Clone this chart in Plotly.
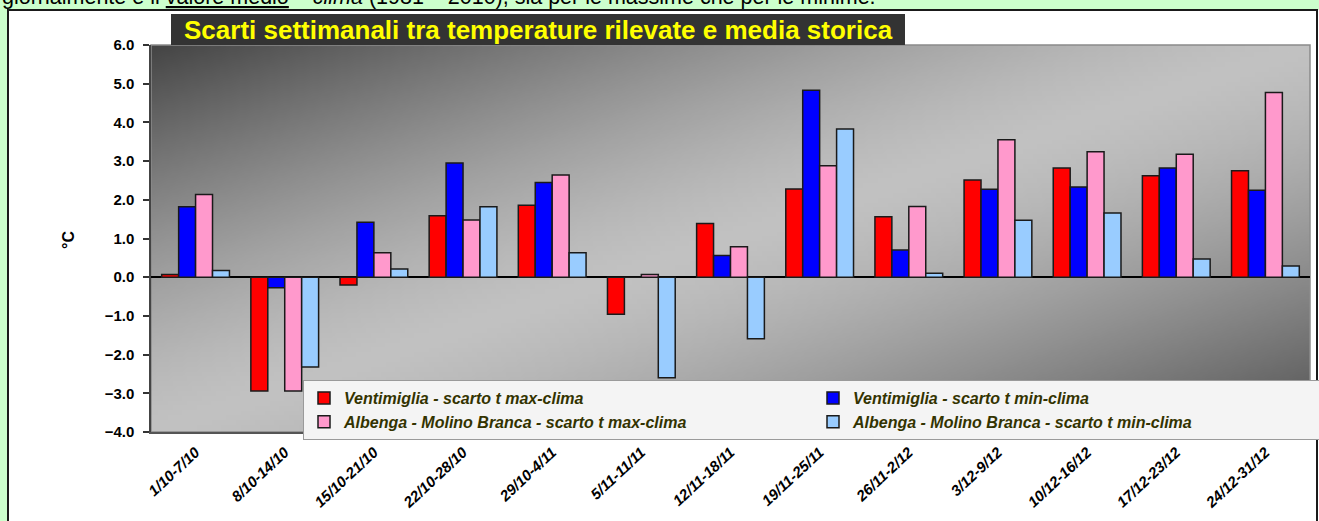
import base64, struct, zlib
import numpy as np
import plotly.graph_objects as go

# ---------------- data ----------------
categories = ['1/10-7/10', '8/10-14/10', '15/10-21/10', '22/10-28/10', '29/10-4/11',
              '5/11-11/11', '12/11-18/11', '19/11-25/11', '26/11-2/12', '3/12-9/12',
              '10/12-16/12', '17/12-23/12', '24/12-31/12']
vent_max = [0.07, -2.94, -0.20, 1.59, 1.86, -0.96, 1.39, 2.28, 1.56, 2.51, 2.82, 2.62, 2.75]
vent_min = [1.82, -0.27, 1.42, 2.95, 2.45, 0.00, 0.56, 4.83, 0.70, 2.27, 2.33, 2.82, 2.25]
alb_max = [2.14, -2.94, 0.63, 1.48, 2.64, 0.07, 0.79, 2.88, 1.83, 3.55, 3.24, 3.18, 4.77]
alb_min = [0.17, -2.32, 0.21, 1.82, 0.63, -2.60, -1.59, 3.83, 0.10, 1.47, 1.66, 0.47, 0.29]
series_names = ['Ventimiglia - scarto t max-clima', 'Ventimiglia - scarto t min-clima',
                'Albenga - Molino Branca - scarto t max-clima', 'Albenga - Molino Branca - scarto t min-clima']
series_colors = ['#ff0000', '#0000ff', '#ff99cc', '#99ccff']
y_ticks = [-4, -3, -2, -1, 0, 1, 2, 3, 4, 5, 6]
grid_ticks = [-3, 3, 4, 5]

# ---------------- geometry helpers (pixel -> paper) ----------------
FW, FH = 1319, 521
L, R, T, B = 151, 1310, 45, 432
W, H = R - L, B - T


def fx(px):
    return (px - L) / W


def fy(py):
    return (B - py) / H


# ---------------- gradient background image ----------------
def gray_png(arr):
    h, w = arr.shape
    raw = b''.join(b'\x00' + bytes(row.tolist()) for row in arr.astype(np.uint8))

    def chunk(tag, data):
        return struct.pack('>I', len(data)) + tag + data + struct.pack('>I', zlib.crc32(tag + data) & 0xffffffff)

    return (b'\x89PNG\r\n\x1a\n' + chunk(b'IHDR', struct.pack('>IIBBBBB', w, h, 8, 0, 0, 0, 0))
            + chunk(b'IDAT', zlib.compress(raw)) + chunk(b'IEND', b''))


gw, gh = 240, 80
u = (np.arange(gw) + 0.5) / gw
v = (np.arange(gh) + 0.5) / gh
t = (u[None, :] + v[:, None]) / 2
light = 194.0
dark = np.where(t < 0.5, 68.0, 80.0)
vals = light - (light - dark) * np.abs(1 - 2 * t) ** 1.4
bg_src = 'data:image/png;base64,' + base64.b64encode(gray_png(np.clip(vals, 0, 255))).decode()

# ---------------- figure ----------------
fig = go.Figure()
for name, vals_, col in zip(series_names, [vent_max, vent_min, alb_max, alb_min], series_colors):
    fig.add_trace(go.Bar(x=categories, y=vals_, name=name,
                         marker=dict(color=col, line=dict(color='#1a1a1a', width=1.5))))

ARIAL = 'Arial, Liberation Sans, sans-serif'
bold = dict(family=ARIAL, color='black', weight='bold')

fig.update_layout(
    width=FW, height=FH,
    margin=dict(l=L, r=FW - R, t=T, b=FH - B, autoexpand=False),
    paper_bgcolor='white',
    plot_bgcolor='rgba(0,0,0,0)',
    barmode='group', bargap=0.24, bargroupgap=0,
    showlegend=True,
    legend=dict(orientation='h', x=fx(303), y=fy(380), xanchor='left', yanchor='top',
                bgcolor='#f4f4f4', bordercolor='#9a9a9a', borderwidth=1,
                entrywidth=464, tracegroupgap=0,
                font=dict(family=ARIAL, size=16, color='#333300', weight='bold', style='italic')),
    xaxis=dict(type='category', showline=True, linecolor='#555555', linewidth=1.5, ticks='',
               showgrid=False, tickangle=-43, ticklabelstandoff=4,
               tickfont=dict(family=ARIAL, size=15, color='black', weight='bold', style='italic')),
    yaxis=dict(range=[-4, 6], tickvals=y_ticks, tickformat='.1f', showgrid=False,
               zeroline=True, zerolinecolor='black', zerolinewidth=1.5,
               showline=True, linecolor='#444444', linewidth=1.5,
               ticks='outside', ticklen=6, tickwidth=1.5, tickcolor='#333333',
               ticklabelstandoff=6, tickfont=dict(size=15, **bold)),
    xaxis2=dict(overlaying='x', anchor='free', position=0.4,
                range=[-0.5, len(categories) - 0.5],
                tickvals=[i + 0.5 for i in range(len(categories))],
                ticks='outside', ticklen=5, tickwidth=1, tickcolor='#555555',
                showticklabels=False, showgrid=False, zeroline=False, showline=False),
    yaxis2=dict(overlaying='y', side='left', range=[-4, 6], tickvals=grid_ticks,
                showgrid=True, gridcolor='#ececec', gridwidth=2,
                showticklabels=False, ticks='', showline=False, zeroline=False),
    images=[dict(source=bg_src, xref='paper', yref='paper', x=0, y=1, sizex=1, sizey=1,
                 xanchor='left', yanchor='top', sizing='stretch', layer='below')],
)

shapes = [
    # green surroundings
    dict(type='rect', xref='paper', yref='paper', x0=fx(-2), x1=fx(8), y0=fy(FH + 2), y1=fy(-2),
         fillcolor='#ccffcc', line=dict(width=0), layer='below'),
    dict(type='rect', xref='paper', yref='paper', x0=fx(-2), x1=fx(FW + 2), y0=fy(10), y1=fy(-2),
         fillcolor='#ccffcc', line=dict(width=0), layer='below'),
    # outer frame
    dict(type='rect', xref='paper', yref='paper', x0=fx(8), x1=fx(1317), y0=fy(FH + 3), y1=fy(10),
         fillcolor='rgba(0,0,0,0)', line=dict(color='#1a1a1a', width=2), layer='below'),
    # plot area border
    dict(type='rect', xref='paper', yref='paper', x0=0, x1=1, y0=0, y1=1,
         fillcolor='rgba(0,0,0,0)', line=dict(color='#8a8a8a', width=1.5), layer='below'),
    # title box
    dict(type='rect', xref='paper', yref='paper', x0=fx(171), x1=fx(905), y0=fy(45), y1=fy(14),
         fillcolor='#333333', line=dict(width=0), layer='below'),
]
fig.update_layout(shapes=shapes)

fig.add_annotation(xref='paper', yref='paper', x=fx(538), y=fy(30), xanchor='center', yanchor='middle',
                   text='Scarti settimanali tra temperature rilevate e media storica', showarrow=False,
                   font=dict(family=ARIAL, size=26, color='#ffff00', weight='bold'))
fig.add_annotation(xref='paper', yref='paper', x=fx(0), y=fy(-3), xanchor='left', yanchor='middle',
                   text='giornalmente e il <span style="text-decoration:underline">valore medio</span> – '
                        '<i>clima</i> (1981 – 2010), sia per le massime che per le minime.',
                   showarrow=False, font=dict(family=ARIAL, size=21.5, color='black'))
fig.add_annotation(xref='paper', yref='paper', x=fx(68), y=fy(240), xanchor='center', yanchor='middle',
                   text='°C', textangle=-90, showarrow=False, font=dict(size=16, **bold))

fig.write_html('out.html', config={'displayModeBar': False},
               post_script="document.body.style.margin='0px';document.body.style.background='#ccffcc';")
